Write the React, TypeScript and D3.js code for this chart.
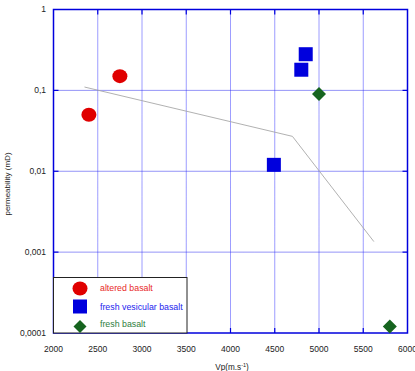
import React from "react";
import * as d3 from "d3";

// Measurements: P-wave velocity (m/s) vs permeability (mD)
const alteredVp = [2400, 2750];
const alteredK = [0.05, 0.15];
const vesicularVp = [4850, 4800, 4490];
const vesicularK = [0.28, 0.18, 0.012];
const freshVp = [5000, 5800];
const freshK = [0.09, 0.00012];
// Trend line
const trendVp = [2350, 4700, 5620];
const trendK = [0.11, 0.027, 0.00135];

const xTicks = [2000, 2500, 3000, 3500, 4000, 4500, 5000, 5500, 6000];
const yTicks = [1, 0.1, 0.01, 0.001, 0.0001];
const yTickLabels = ["1", "0,1", "0,01", "0,001", "0,0001"];

const legendLabels = ["altered basalt", "fresh vesicular basalt", "fresh basalt"];
const RED = "#e00000";
const BLUE = "#0000dd";
const GREEN = "#16641f";

const W = 415;
const H = 371;
const m = { left: 53.5, right: 407.5, top: 9.5, bottom: 333 };

export default function App() {
  const x = d3.scaleLinear().domain([2000, 6000]).range([m.left, m.right]);
  const y = d3.scaleLog().domain([0.0001, 1]).range([m.bottom, m.top]);
  const line = d3
    .line<number>()
    .x((_, i) => x(trendVp[i]))
    .y((d) => y(d));
  const font = "Liberation Sans, Arial, sans-serif";
  const diamond = (cx: number, cy: number, r: number) =>
    `M${cx},${cy - r}L${cx + r},${cy}L${cx},${cy + r}L${cx - r},${cy}Z`;
  const lx = m.left;
  const ly = 277.5;
  const lw = 133.5;
  const lh = m.bottom - ly;

  return (
    <svg
      width={W}
      height={H}
      style={{ position: "absolute", left: 0, top: 0, background: "#fff" }}
      fontFamily={font}
    >
      {/* grid */}
      {xTicks.slice(1, -1).map((t) => (
        <line
          key={"gx" + t}
          x1={x(t)}
          x2={x(t)}
          y1={m.top}
          y2={m.bottom}
          stroke="#3a3aff"
          strokeWidth={1}
          strokeDasharray="1,1"
        />
      ))}
      {yTicks.slice(1, -1).map((t) => (
        <line
          key={"gy" + t}
          x1={m.left}
          x2={m.right}
          y1={y(t)}
          y2={y(t)}
          stroke="#2a2aee"
          strokeWidth={1}
          strokeDasharray="1,1"
        />
      ))}
      {/* inward ticks */}
      {xTicks.slice(1, -1).map((t) => (
        <g key={"tx" + t} stroke="#0000dd" strokeWidth={1.2}>
          <line x1={x(t)} x2={x(t)} y1={m.bottom} y2={m.bottom - 5} />
          <line x1={x(t)} x2={x(t)} y1={m.top} y2={m.top + 5} />
        </g>
      ))}
      {yTicks.slice(1, -1).map((t) => (
        <g key={"ty" + t} stroke="#0000dd" strokeWidth={1.2}>
          <line x1={m.left} x2={m.left + 5} y1={y(t)} y2={y(t)} />
          <line x1={m.right} x2={m.right - 5} y1={y(t)} y2={y(t)} />
        </g>
      ))}
      {/* trend */}
      <path d={line(trendK) || ""} fill="none" stroke="#a8a8a8" strokeWidth={0.9} />
      {/* frame */}
      <rect
        x={m.left}
        y={m.top}
        width={m.right - m.left}
        height={m.bottom - m.top}
        fill="none"
        stroke="#0000dd"
        strokeWidth={1.5}
      />
      {/* points */}
      {alteredK.map((k, i) => (
        <ellipse key={"a" + i} cx={x(alteredVp[i])} cy={y(k)} rx={7.5} ry={7} fill={RED} />
      ))}
      {vesicularK.map((k, i) => (
        <rect
          key={"v" + i}
          x={x(vesicularVp[i]) - 7}
          y={y(k) - 7}
          width={14}
          height={14}
          fill={BLUE}
        />
      ))}
      {freshK.map((k, i) => (
        <path key={"f" + i} d={diamond(x(freshVp[i]), y(k), 7)} fill={GREEN} />
      ))}
      {/* legend */}
      <rect x={lx} y={ly} width={lw} height={lh} fill="#fff" stroke="#222" strokeWidth={1} />
      <ellipse cx={80} cy={288.5} rx={7.5} ry={7} fill={RED} />
      <rect x={73} y={299.5} width={14} height={14} fill={BLUE} />
      <path d={diamond(80, 326.5, 6.5)} fill={GREEN} />
      {legendLabels.map((s, i) => (
        <text
          key={s}
          x={100}
          y={[288, 307.3, 323.5][i]}
          dy="0.35em"
          fontSize={8.8}
          fill={["#e82828", "#2424ee", "#2e7e3e"][i]}
        >
          {s}
        </text>
      ))}
      {/* axis labels */}
      {xTicks.map((t) => (
        <text key={"lx" + t} x={x(t)} y={349} dy="0.35em" textAnchor="middle" fontSize={8.5} fill="#222">
          {t}
        </text>
      ))}
      {yTicks.map((t, i) => (
        <text key={"ly" + t} x={46} y={y(t)} dy="0.35em" textAnchor="end" fontSize={8.5} fill="#222">
          {yTickLabels[i]}
        </text>
      ))}
      <text x={232} y={367} dy="0.35em" textAnchor="middle" fontSize={8.2} fill="#222">
        Vp(m.s
        <tspan dy={-3} fontSize={5.5}>
          -1
        </tspan>
        <tspan dy={3}>)</tspan>
      </text>
      <text
        transform="translate(7,184) rotate(-90)"
        dy="0.35em"
        textAnchor="middle"
        fontSize={8}
        fill="#222"
      >
        permeability (mD)
      </text>
    </svg>
  );
}
